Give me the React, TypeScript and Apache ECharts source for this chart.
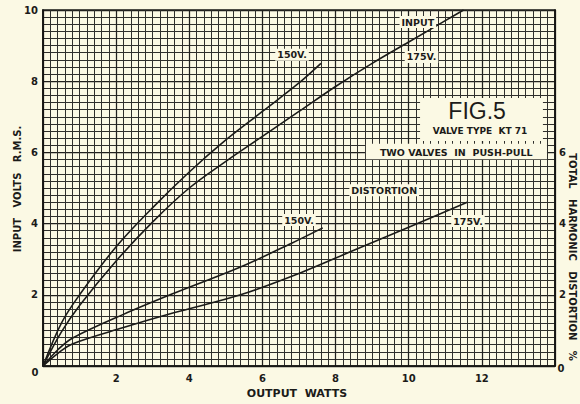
import React, { useEffect, useRef } from "react";
import * as echarts from "echarts";

// Output watts (x) against input volts r.m.s. for the KT71 push-pull pair
const input150X = [0, 0.5, 1, 2, 3, 4, 5, 6, 7, 7.6];
const input150Y = [0, 1.2, 2.0, 3.35, 4.45, 5.45, 6.35, 7.15, 7.95, 8.5];
const input175X = [0, 0.5, 1, 2, 3, 4, 5, 6, 7, 8, 9, 10, 11, 11.5];
const input175Y = [0, 0.95, 1.7, 2.95, 4.05, 5.0, 5.75, 6.45, 7.15, 7.85, 8.5, 9.1, 9.7, 10.0];

// Total harmonic distortion (%) against output watts
const dist150X = [0, 0.4, 0.8, 2.2, 3.6, 5.4, 6.8, 7.65];
const dist150Y = [0, 0.45, 0.78, 1.45, 2.05, 2.78, 3.45, 3.88];
const dist175X = [0, 0.4, 0.8, 2.2, 3.6, 5.4, 7, 8.5, 10, 11.6];
const dist175Y = [0, 0.35, 0.62, 1.08, 1.5, 2.0, 2.6, 3.25, 3.9, 4.6];

const xTickLabels = ["2", "4", "6", "8", "10", "12"];
const leftTickLabels = ["2", "4", "6", "8", "10"];
const rightTickLabels = ["2", "4", "6"];

const PAPER = "#fbf9e4";
const INK = "#1b1b19";
const FONT = "DejaVu Sans";

const pairs = (xs: number[], ys: number[]) => xs.map((x, i) => [x, ys[i]]);

export default function App() {
  const ref = useRef<HTMLDivElement>(null);

  useEffect(() => {
    document.body.style.margin = "0";
    const chart = echarts.init(ref.current!, null, { renderer: "svg" });

    const curve = (name: string, data: number[][], yAxisIndex: number) => ({
      name,
      type: "line",
      yAxisIndex,
      data,
      smooth: 0.35,
      showSymbol: false,
      silent: true,
      lineStyle: { color: INK, width: 1.6 },
    });

    const labelStyle = { color: INK, fontFamily: FONT, fontWeight: "bold", fontSize: 10 };

    chart.setOption({
      animation: false,
      backgroundColor: PAPER,
      grid: {
        left: 43,
        right: 25,
        top: 10,
        bottom: 38,
        show: true,
        borderColor: "#141412",
        borderWidth: 1.6,
        backgroundColor: PAPER,
      },
      xAxis: {
        type: "value",
        min: 0,
        max: 14,
        interval: 2,
        axisLine: { show: true, lineStyle: { color: "#141412", width: 1.6 } },
        axisTick: { show: false },
        axisLabel: {
          ...labelStyle,
          margin: 7,
          formatter: (v: number) => (xTickLabels.includes(String(v)) ? String(v) : ""),
        },
        splitLine: { show: true, lineStyle: { color: "#20201e", width: 1.25 } },
        minorTick: { show: false, splitNumber: 10 },
        minorSplitLine: { show: true, lineStyle: { color: "#2f2f2c", width: 1 } },
      },
      yAxis: [
        {
          type: "value",
          min: 0,
          max: 10,
          interval: 2,
          axisLine: { show: true, lineStyle: { color: "#141412", width: 1.6 } },
          axisTick: { show: false },
          axisLabel: {
            ...labelStyle,
            margin: 5,
            formatter: (v: number) => (leftTickLabels.includes(String(v)) ? String(v) : ""),
          },
          splitLine: { show: true, lineStyle: { color: "#20201e", width: 1.25 } },
          minorTick: { show: false, splitNumber: 10 },
          minorSplitLine: { show: true, lineStyle: { color: "#2f2f2c", width: 1 } },
        },
        {
          type: "value",
          position: "right",
          min: 0,
          max: 10,
          interval: 2,
          axisLine: { show: true, lineStyle: { color: "#141412", width: 1.6 } },
          axisTick: { show: false },
          axisLabel: {
            ...labelStyle,
            margin: 4,
            formatter: (v: number) => (rightTickLabels.includes(String(v)) ? String(v) : ""),
          },
          splitLine: { show: false },
        },
      ],
      series: [
        curve("Input 150V", pairs(input150X, input150Y), 0),
        curve("Input 175V", pairs(input175X, input175Y), 0),
        curve("Distortion 150V", pairs(dist150X, dist150Y), 1),
        curve("Distortion 175V", pairs(dist175X, dist175Y), 1),
      ],
    });

    const px = (x: number, y: number) =>
      chart.convertToPixel({ xAxisIndex: 0, yAxisIndex: 0 }, [x, y]) as number[];

    const tag = (text: string, x: number, y: number, size = 9.5) => {
      const [cx, cy] = px(x, y);
      return {
        type: "text",
        x: cx,
        y: cy,
        z: 10,
        silent: true,
        style: {
          text,
          fill: INK,
          font: `bold ${size}px "${FONT}"`,
          align: "center",
          verticalAlign: "middle",
          backgroundColor: PAPER,
          padding: [1, 2],
        },
      };
    };

    const panel = (x0: number, y0: number, x1: number, y1: number) => {
      const [ax, ay] = px(x0, y0);
      const [bx, by] = px(x1, y1);
      return {
        type: "rect",
        z: 9,
        silent: true,
        shape: { x: ax, y: ay, width: bx - ax, height: by - ay },
        style: { fill: PAPER },
      };
    };

    const [ox, oy] = px(0, 0);
    const [rx] = px(14, 0);

    const figPos = px(11.87, 7.16);

    chart.setOption({
      graphic: [
        panel(10.31, 7.53, 13.67, 6.32),
        panel(8.83, 6.24, 13.78, 5.81),
        tag("INPUT", 10.25, 9.66),
        tag("175V.", 10.35, 8.68),
        tag("150V.", 6.81, 8.74),
        tag("DISTORTION", 9.33, 4.94),
        tag("150V.", 7.0, 4.1),
        tag("175V.", 11.62, 4.07),
        {
          type: "text",
          x: figPos[0],
          y: figPos[1],
          z: 11,
          silent: true,
          style: {
            text: "FIG.5",
            fill: INK,
            font: `23px "Liberation Sans"`,
            align: "center",
            verticalAlign: "middle",
          },
        },
        { ...tag("VALVE TYPE  KT 71", 11.95, 6.6, 9), z: 11 },
        { ...tag("TWO VALVES  IN  PUSH-PULL", 11.3, 6.01, 9.5), z: 11 },
        {
          type: "text",
          x: ox - 8,
          y: oy + 6,
          silent: true,
          style: { text: "0", fill: INK, font: `bold 10px "${FONT}"`, align: "center", verticalAlign: "middle" },
        },
        {
          type: "text",
          x: rx + 6,
          y: oy + 2,
          silent: true,
          style: { text: "0", fill: INK, font: `bold 10px "${FONT}"`, align: "center", verticalAlign: "middle" },
        },
        {
          type: "text",
          x: 17,
          y: 189,
          rotation: Math.PI / 2,
          silent: true,
          style: {
            text: "INPUT   VOLTS   R.M.S.",
            fill: INK,
            font: `bold 10px "${FONT}"`,
            align: "center",
            verticalAlign: "middle",
          },
        },
        {
          type: "text",
          x: 297,
          y: 393,
          silent: true,
          style: {
            text: "OUTPUT  WATTS",
            fill: INK,
            font: `bold 11px "${FONT}"`,
            align: "center",
            verticalAlign: "middle",
          },
        },
        {
          type: "text",
          x: 572,
          y: 257,
          rotation: -Math.PI / 2,
          silent: true,
          style: {
            text: "TOTAL   HARMONIC   DISTORTION   %",
            fill: INK,
            font: `bold 10px "${FONT}"`,
            align: "center",
            verticalAlign: "middle",
          },
        },
      ],
    });

    return () => chart.dispose();
  }, []);

  return <div ref={ref} style={{ width: 580, height: 404, background: PAPER }} />;
}
